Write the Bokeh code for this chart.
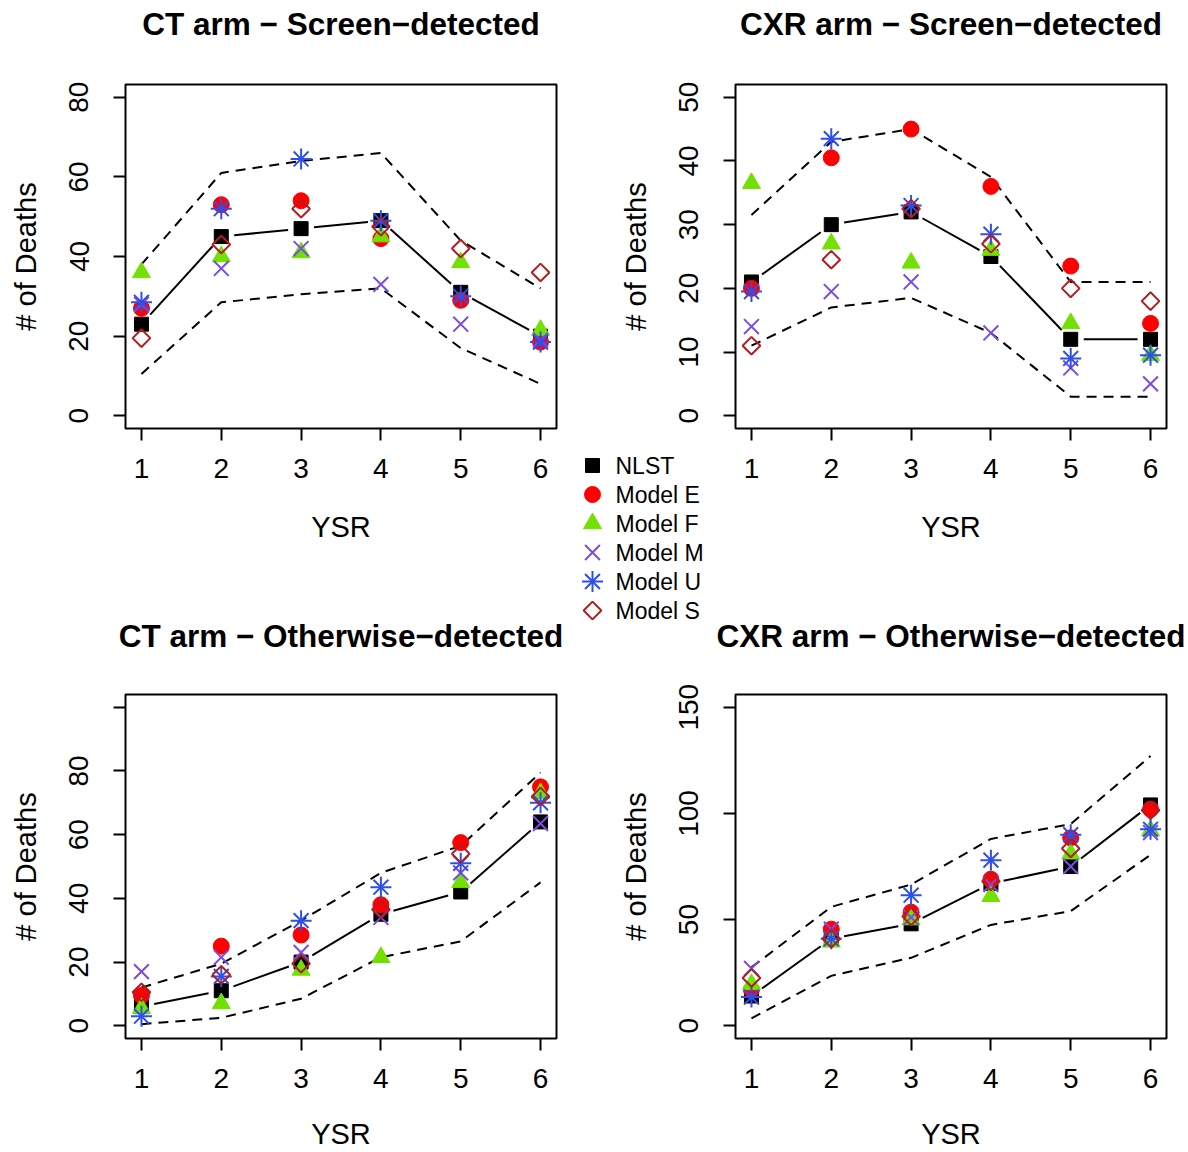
import math

from bokeh.core.properties import value
from bokeh.embed import file_html
from bokeh.models import FixedTicker, GridBox, Range1d
from bokeh.plotting import figure
from bokeh.resources import INLINE

# ---------------------------------------------------------------- data
years = [1, 2, 3, 4, 5, 6]
series_names = ["NLST", "Model E", "Model F", "Model M", "Model U", "Model S"]

# CT arm, screen-detected deaths
ct_scr_nlst = [23, 45, 47, 49, 31, 20]
ct_scr_upper = [38, 61, 64, 66, 44, 32]
ct_scr_lower = [10.5, 28.5, 30.5, 32, 17, 8]
ct_scr_e = [27, 53, 54, 44.5, 29, 18.5]
ct_scr_f = [36, 40, 41, 45, 38.5, 21.5]
ct_scr_m = [28, 37, 42, 33, 23, 19]
ct_scr_u = [28.5, 52, 64.5, 49, 30, 18.5]
ct_scr_s = [19.5, 43, 52, 47.5, 42, 36]

# CXR arm, screen-detected deaths
cxr_scr_nlst = [21, 30, 32, 25, 12, 12]
cxr_scr_upper = [31.5, 43, 45, 37.5, 21, 21]
cxr_scr_lower = [11, 17, 18.5, 13, 3, 3]
cxr_scr_e = [20, 40.5, 45, 36, 23.5, 14.5]
cxr_scr_f = [36.5, 27, 24, 26, 14.5, 9.5]
cxr_scr_m = [14, 19.5, 21, 13, 7.5, 5]
cxr_scr_u = [19.5, 43.5, 33, 28.5, 9, 9.5]
cxr_scr_s = [11, 24.5, 32.5, 27, 20, 18]

# CT arm, otherwise-detected deaths
ct_oth_nlst = [6, 11, 20, 35, 42, 64]
ct_oth_upper = [12, 19.5, 33, 48, 56.5, 79.5]
ct_oth_lower = [0.5, 2.5, 8.5, 21.5, 26.5, 45]
ct_oth_e = [9.5, 25, 28.5, 38, 57.5, 75]
ct_oth_f = [5.5, 7, 17.5, 21.5, 45, 73]
ct_oth_m = [17, 21.5, 23, 34, 48, 63.5]
ct_oth_u = [3, 15.5, 33, 43.5, 51, 70]
ct_oth_s = [10.5, 16, 19.5, 36.5, 54, 72]

# CXR arm, otherwise-detected deaths
cxr_oth_nlst = [14, 41, 48, 67, 75, 104]
cxr_oth_upper = [27.5, 56, 66.5, 88, 95, 127]
cxr_oth_lower = [3.5, 23.5, 32, 47.5, 54, 80.5]
cxr_oth_e = [17, 45.5, 53.5, 69, 88.5, 102]
cxr_oth_f = [19.5, 39.5, 50, 61, 81, 92]
cxr_oth_m = [27, 45.5, 51, 66.5, 75, 91]
cxr_oth_u = [13.5, 41, 61.5, 78, 90, 92.5]
cxr_oth_s = [22.5, 41, 51.5, 68, 83.5, 101.5]

# ---------------------------------------------------------------- style
FONT = "Liberation Sans"
PAGE_W, PAGE_H = 1188, 1152
FRAME_W, FRAME_H = 431, 344
X_LO, X_HI = 0.8, 6.2
TOP_H, BOT_H = 600, 552
LEFT_W, RIGHT_W = 575, 613
FRAME_LEFT = (125, 735)          # frame left edge of the left / right column
FRAME_TOP = (84, 694)            # frame top edge of the upper / lower row
TITLE_Y = (23, 635)              # title anchor heights of the upper / lower row

C_E = "#FF0000"
C_F = "#72E000"
C_M = "#7B4BE6"
C_U = "#2E4FEA"
C_S = "#B01E23"

MARKERS = {
    "NLST": [dict(marker="square", size=14, fill_color="black", line_color="black")],
    "Model E": [dict(marker="circle", size=16, fill_color=C_E, line_color=C_E)],
    "Model F": [dict(marker="triangle", size=18, fill_color=C_F, line_color=C_F)],
    "Model M": [dict(marker="x", size=21, line_color=C_M, line_width=2)],
    "Model U": [dict(marker="cross", size=21, line_color=C_U, line_width=2),
                dict(marker="x", size=21, line_color=C_U, line_width=2)],
    "Model S": [dict(marker="square", size=12.5, angle=math.pi / 4,
                     fill_color=None, line_color=C_S, line_width=2)],
}


def gapped_segments(xs, ys, y_lo, y_hi, gap=13.0):
    """Segments between consecutive points, trimmed near each point."""
    xpx = FRAME_W / (X_HI - X_LO)
    ypx = FRAME_H / (y_hi - y_lo)
    out = {"x0": [], "y0": [], "x1": [], "y1": []}
    for i in range(len(xs) - 1):
        ddx, ddy = xs[i + 1] - xs[i], ys[i + 1] - ys[i]
        length = math.hypot(ddx * xpx, ddy * ypx)
        if length <= 2 * gap:
            continue
        f = gap / length
        out["x0"].append(xs[i] + ddx * f)
        out["y0"].append(ys[i] + ddy * f)
        out["x1"].append(xs[i + 1] - ddx * f)
        out["y1"].append(ys[i + 1] - ddy * f)
    return out


def panel(ymax, yticks, series, col, row_, label_overrides=None):
    nlst, upper, lower, e, f, m, u, s = series
    y_lo, y_hi = -0.04 * ymax, 1.04 * ymax
    canvas_w = LEFT_W if col == 0 else RIGHT_W
    canvas_h = TOP_H if row_ == 0 else BOT_H
    b_left = FRAME_LEFT[col] - (0 if col == 0 else LEFT_W)
    b_top = FRAME_TOP[row_] - (0 if row_ == 0 else TOP_H)
    p = figure(
        title=None,
        frame_width=FRAME_W, frame_height=FRAME_H,
        x_range=Range1d(X_LO, X_HI), y_range=Range1d(y_lo, y_hi),
        min_border_left=b_left, min_border_right=canvas_w - b_left - FRAME_W,
        min_border_top=b_top, min_border_bottom=canvas_h - b_top - FRAME_H,
        output_backend="svg", toolbar_location=None,
        background_fill_color="white", border_fill_color="white",
        x_axis_label="YSR", y_axis_label="# of Deaths",
    )
    p.grid.visible = False
    p.outline_line_color = "black"
    p.outline_line_width = 2

    for ax in (p.xaxis, p.yaxis):
        ax.axis_line_color = None
        ax.major_tick_out = 12
        ax.major_tick_in = 0
        ax.major_tick_line_width = 2
        ax.major_tick_line_color = "black"
        ax.minor_tick_line_color = None
        ax.major_label_text_font = FONT
        ax.major_label_text_font_size = "28px"
        ax.major_label_text_color = "black"
        ax.axis_label_text_font = FONT
        ax.axis_label_text_font_size = "29px"
        ax.axis_label_text_font_style = "normal"
        ax.axis_label_text_color = "black"
    p.xaxis.ticker = FixedTicker(ticks=years)
    p.xaxis.major_label_standoff = 18
    p.xaxis.axis_label_standoff = 30 if row_ == 0 else 27
    p.yaxis.ticker = FixedTicker(ticks=yticks)
    p.yaxis.major_label_orientation = "vertical"
    p.yaxis.major_label_standoff = 25
    p.yaxis.axis_label_standoff = 25
    if label_overrides:
        p.yaxis.major_label_overrides = label_overrides

    # NLST observed counts, joined with gaps around the points
    p.segment(x0="x0", y0="y0", x1="x1", y1="y1",
              source=gapped_segments(years, nlst, y_lo, y_hi),
              line_color="black", line_width=2)
    # interval bounds
    p.line(years, upper, line_color="black", line_width=2, line_dash="10 7")
    p.line(years, lower, line_color="black", line_width=2, line_dash="10 7")

    for name, ys in zip(series_names, (nlst, e, f, m, u, s)):
        for style in MARKERS[name]:
            p.scatter(years, ys, **style)
    return p


p1 = panel(80, [0, 20, 40, 60, 80],
           (ct_scr_nlst, ct_scr_upper, ct_scr_lower,
            ct_scr_e, ct_scr_f, ct_scr_m, ct_scr_u, ct_scr_s), 0, 0)
p2 = panel(50, [0, 10, 20, 30, 40, 50],
           (cxr_scr_nlst, cxr_scr_upper, cxr_scr_lower,
            cxr_scr_e, cxr_scr_f, cxr_scr_m, cxr_scr_u, cxr_scr_s), 1, 0)
p3 = panel(100, [0, 20, 40, 60, 80, 100],
           (ct_oth_nlst, ct_oth_upper, ct_oth_lower,
            ct_oth_e, ct_oth_f, ct_oth_m, ct_oth_u, ct_oth_s), 0, 1, {100: ""})
p4 = panel(150, [0, 50, 100, 150],
           (cxr_oth_nlst, cxr_oth_upper, cxr_oth_lower,
            cxr_oth_e, cxr_oth_f, cxr_oth_m, cxr_oth_u, cxr_oth_s), 1, 1)

# ------------------------------------------------ titles and shared legend
# A transparent page-sized layer (page pixels, y down) carrying the panel
# titles and the legend that sits between the two rows.  Its frame must
# cover the whole page, so it opts out of the grid's frame alignment.
ov = figure(
    width=PAGE_W, height=PAGE_H, min_border=0, title=None,
    x_range=Range1d(0, PAGE_W), y_range=Range1d(PAGE_H, 0),
    x_axis_location=None, y_axis_location=None,
    output_backend="svg", toolbar_location=None,
    background_fill_color=None, border_fill_color=None, outline_line_color=None,
    frame_align=False,
)
ov.grid.visible = False

titles = [
    "CT arm \u2212 Screen\u2212detected", "CXR arm \u2212 Screen\u2212detected",
    "CT arm \u2212 Otherwise\u2212detected", "CXR arm \u2212 Otherwise\u2212detected",
]
title_x = [FRAME_LEFT[c] + FRAME_W / 2 for r in (0, 1) for c in (0, 1)]
title_y = [TITLE_Y[r] for r in (0, 1) for c in (0, 1)]
ov.text(x=title_x, y=title_y, text=titles, text_align="center",
        text_baseline="alphabetic", text_font=value(FONT),
        text_font_size="31.5px", text_font_style="bold", text_color="black")

LEG_X, LEG_TOP, LEG_PITCH = 592, 465, 29
for k, name in enumerate(series_names):
    ly = LEG_TOP + k * LEG_PITCH
    for style in MARKERS[name]:
        ov.scatter(x=[LEG_X], y=[ly], **style)
ov.text(x=[LEG_X + 23] * len(series_names),
        y=[LEG_TOP + k * LEG_PITCH for k in range(len(series_names))],
        text=series_names, text_align="left", text_baseline="middle",
        text_font=value(FONT), text_font_size="23px", text_color="black")

layout = GridBox(children=[(p1, 0, 0), (p2, 0, 1), (p3, 1, 0), (p4, 1, 1),
                           (ov, 0, 0, 2, 2)])
open("out.html", "w").write(file_html(layout, INLINE))
